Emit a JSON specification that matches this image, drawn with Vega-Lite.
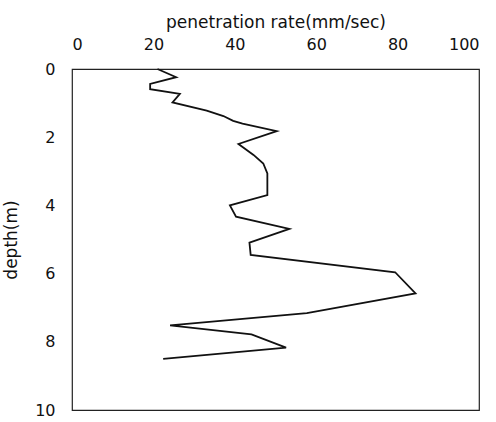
{
  "$schema": "https://vega.github.io/schema/vega-lite/v6.json",
  "width": 407,
  "height": 341,
  "autosize": {"type": "none"},
  "padding": {"left": 72, "top": 69, "right": 17, "bottom": 12},
  "background": "white",
  "config": {
    "font": "DejaVu Sans",
    "view": {"stroke": "#222", "strokeWidth": 1.2},
    "axis": {
      "grid": false,
      "domain": false,
      "ticks": false,
      "labelFont": "DejaVu Sans",
      "labelFontSize": 16,
      "labelColor": "#111",
      "titleFont": "DejaVu Sans",
      "titleFontSize": 17,
      "titleFontWeight": "normal",
      "titleColor": "#111"
    }
  },
  "data": {
    "values": [
      {"depth": 0.0, "rate": 21.0},
      {"depth": 0.24, "rate": 25.6},
      {"depth": 0.44, "rate": 19.2},
      {"depth": 0.59, "rate": 19.2},
      {"depth": 0.73, "rate": 26.5},
      {"depth": 0.98, "rate": 24.7},
      {"depth": 1.22, "rate": 33.1},
      {"depth": 1.38, "rate": 37.2},
      {"depth": 1.52, "rate": 39.6},
      {"depth": 1.6, "rate": 41.9},
      {"depth": 1.82, "rate": 50.3},
      {"depth": 2.2, "rate": 40.9},
      {"depth": 2.52, "rate": 44.6},
      {"depth": 2.77, "rate": 47.0},
      {"depth": 3.06, "rate": 48.0},
      {"depth": 3.7, "rate": 48.0},
      {"depth": 4.0, "rate": 38.8},
      {"depth": 4.33, "rate": 40.3},
      {"depth": 4.69, "rate": 53.4},
      {"depth": 5.09, "rate": 43.6},
      {"depth": 5.45, "rate": 43.9},
      {"depth": 5.96, "rate": 79.4},
      {"depth": 6.58, "rate": 84.4},
      {"depth": 7.16, "rate": 57.7},
      {"depth": 7.52, "rate": 24.1},
      {"depth": 7.78, "rate": 44.1},
      {"depth": 8.17, "rate": 52.6},
      {"depth": 8.5, "rate": 22.4}
    ]
  },
  "mark": {"type": "line", "color": "#111", "strokeWidth": 1.8},
  "encoding": {
    "x": {
      "field": "rate",
      "type": "quantitative",
      "scale": {"domain": [0, 100], "nice": false, "zero": false},
      "axis": {
        "orient": "top",
        "values": [0, 20, 40, 60, 80, 100],
        "labelPadding": 17,
        "title": "penetration rate(mm/sec)",
        "titlePadding": 5
      }
    },
    "y": {
      "field": "depth",
      "type": "quantitative",
      "scale": {"domain": [0, 10], "reverse": true, "nice": false},
      "axis": {
        "values": [0, 2, 4, 6, 8, 10],
        "labelPadding": 17,
        "title": "depth(m)",
        "titlePadding": 14
      }
    },
    "order": {"field": "depth", "type": "quantitative"}
  }
}
